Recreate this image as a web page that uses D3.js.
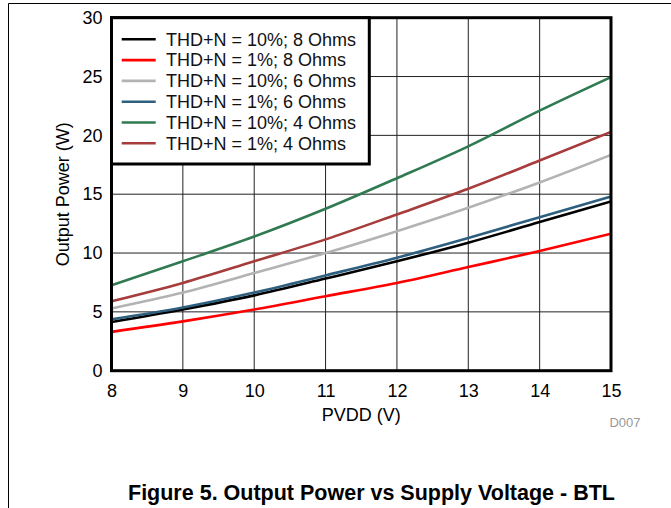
<!DOCTYPE html>
<html><head><meta charset="utf-8">
<script src="https://cdn.jsdelivr.net/npm/d3@7"></script>
<style>body{margin:0;background:#fff}svg{display:block;font-family:"Liberation Sans",Arial,sans-serif}</style>
</head><body>
<svg id="c" width="671" height="508"></svg>
<script>
const pvdd = [8, 9, 10, 11, 12, 13, 14, 15];
const seriesNames = ["THD+N = 10%; 8 Ohms","THD+N = 1%; 8 Ohms","THD+N = 10%; 6 Ohms","THD+N = 1%; 6 Ohms","THD+N = 10%; 4 Ohms","THD+N = 1%; 4 Ohms"];
const thd10_8 = [4.13, 5.2, 6.4, 7.83, 9.3, 10.88, 12.63, 14.38];
const thd1_8  = [3.3, 4.19, 5.2, 6.33, 7.46, 8.81, 10.17, 11.64];
const thd10_6 = [5.29, 6.64, 8.3, 10.0, 11.86, 13.85, 16.0, 18.34];
const thd1_6  = [4.36, 5.37, 6.64, 8.1, 9.6, 11.27, 13.05, 14.8];
const thd10_4 = [7.26, 9.3, 11.4, 13.76, 16.36, 19.07, 22.1, 24.95];
const thd1_4  = [5.9, 7.46, 9.3, 11.16, 13.28, 15.46, 17.86, 20.3];
const xTicks = [8, 9, 10, 11, 12, 13, 14, 15];
const yTicks = [0, 5, 10, 15, 20, 25, 30];
const colors = ["#000000","#ff0000","#b3b3b3","#2f5f7e","#2f7a50","#a63c3c"];
const allSeries = [thd10_8, thd1_8, thd10_6, thd1_6, thd10_4, thd1_4];

const svg = d3.select("#c");
const L = 111.5, R = 611, T = 17.7, B = 370.7;
const x = d3.scaleLinear().domain([8, 15]).range([L, R]);
const y = d3.scaleLinear().domain([0, 30]).range([B, T]);

// outer frame lines
svg.append("line").attr("x1",8.5).attr("x2",671).attr("y1",3.5).attr("y2",3.5).attr("stroke","#000").attr("stroke-width",1);
svg.append("line").attr("x1",8.5).attr("x2",8.5).attr("y1",3.5).attr("y2",508).attr("stroke","#000").attr("stroke-width",1);

// grid
svg.append("g").selectAll("line").data(xTicks).join("line")
  .attr("x1", d => x(d)).attr("x2", d => x(d)).attr("y1", T).attr("y2", B)
  .attr("stroke", "#222").attr("stroke-width", 1);
svg.append("g").selectAll("line").data(yTicks).join("line")
  .attr("x1", L).attr("x2", R).attr("y1", d => y(d)).attr("y2", d => y(d))
  .attr("stroke", "#222").attr("stroke-width", 1);

// axes labels
const xAxis = d3.axisBottom(x).tickValues(xTicks).tickSize(0).tickPadding(14).tickFormat(d3.format("d"));
const gx = svg.append("g").attr("transform", `translate(0,${B})`).call(xAxis);
gx.select(".domain").remove();
gx.selectAll("text").attr("font-size", 18).attr("fill", "#000").attr("font-family","Liberation Sans, Arial, sans-serif");
const yAxis = d3.axisLeft(y).tickValues(yTicks).tickSize(0).tickPadding(9).tickFormat(d3.format("d"));
const gy = svg.append("g").attr("transform", `translate(${L},0)`).call(yAxis);
gy.select(".domain").remove();
gy.selectAll("text").attr("font-size", 18).attr("fill", "#000").attr("font-family","Liberation Sans, Arial, sans-serif");

// lines
const line = d3.line().x((d, i) => x(pvdd[i])).y(d => y(d)).curve(d3.curveMonotoneX);
svg.append("defs").append("clipPath").attr("id","clip").append("rect").attr("x",L).attr("y",T).attr("width",R-L).attr("height",B-T);
const gl = svg.append("g").attr("clip-path","url(#clip)");
allSeries.forEach((s, i) => {
  gl.append("path").attr("d", line(s)).attr("fill", "none").attr("stroke", colors[i]).attr("stroke-width", 2.6);
});
// plot border
svg.append("rect").attr("x", L).attr("y", T).attr("width", R - L).attr("height", B - T)
  .attr("fill", "none").attr("stroke", "#000").attr("stroke-width", 3);

// legend
const lg = svg.append("g");
lg.append("rect").attr("x", L).attr("y", T).attr("width", 369.3 - L).attr("height", 164 - T)
  .attr("fill", "#fff").attr("stroke", "#000").attr("stroke-width", 3);
seriesNames.forEach((n, i) => {
  const yy = 39.3 + i * 20.8;
  lg.append("line").attr("x1", 121.7).attr("x2", 155.7).attr("y1", yy).attr("y2", yy)
    .attr("stroke", colors[i]).attr("stroke-width", 2.6);
  lg.append("text").attr("x", 166).attr("y", yy + 6.3).attr("font-size", 18).attr("fill","#111").text(n);
});

// axis titles
svg.append("text").attr("x", (L + R) / 2).attr("y", 421).attr("text-anchor", "middle").attr("font-size", 18).text("PVDD (V)");
svg.append("text").attr("transform", `translate(68.5,${(T + B) / 2}) rotate(-90)`).attr("text-anchor", "middle").attr("font-size", 18).text("Output Power (W)");
svg.append("text").attr("x", 640.5).attr("y", 427).attr("text-anchor", "end").attr("font-size", 13).attr("fill", "#999").text("D007");
svg.append("text").attr("x", 371.5).attr("y", 500).attr("text-anchor", "middle").attr("font-size", 21.5).attr("font-weight", "bold").text("Figure 5. Output Power vs Supply Voltage - BTL");
</script>
</body></html>
